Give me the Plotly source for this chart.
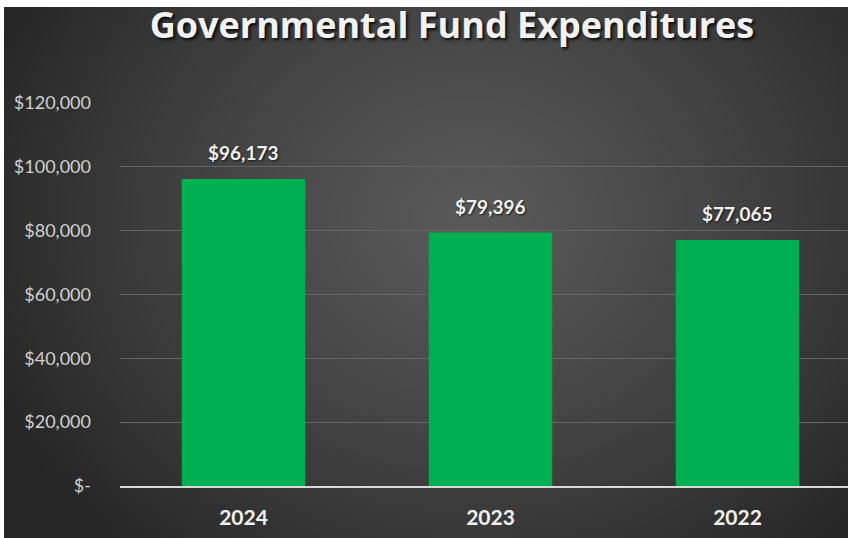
import base64
import struct
import zlib

import numpy as np
import plotly.graph_objects as go

# Chart data
years = ["2024", "2023", "2022"]
expenditures = [96173, 79396, 77065]
value_labels = ["$96,173", "$79,396", "$77,065"]
y_tick_values = [0, 20000, 40000, 60000, 80000, 100000, 120000]
y_tick_labels = ["$-", "$20,000", "$40,000", "$60,000", "$80,000", "$100,000", "$120,000"]

W, H = 848, 538
L, R, T, B = 120, 0, 103, 52
plot_w, plot_h = W - L - R, H - T - B


def png_data_uri(rgb):
    """Encode an (h, w, 3) uint8 array as a PNG data URI."""
    h, w, _ = rgb.shape
    raw = b"".join(b"\x00" + rgb[i].tobytes() for i in range(h))

    def chunk(tag, data):
        c = struct.pack(">I", len(data)) + tag + data
        return c + struct.pack(">I", zlib.crc32(tag + data) & 0xFFFFFFFF)

    png = b"\x89PNG\r\n\x1a\n"
    png += chunk(b"IHDR", struct.pack(">IIBBBBB", w, h, 8, 2, 0, 0, 0))
    png += chunk(b"IDAT", zlib.compress(raw, 9))
    png += chunk(b"IEND", b"")
    return "data:image/png;base64," + base64.b64encode(png).decode()


# Dark radial-gradient backdrop (chart area fill)
gw, gh = 212, 133
yy, xx = np.mgrid[0:gh, 0:gw].astype(float)
cx, cy = gw * 0.55, gh * 0.40
t = np.sqrt(((xx - cx) / (gw * 0.62)) ** 2 + ((yy - cy) / (gh * 0.85)) ** 2)
t = np.clip(t, 0, 1) ** 1.2
inner = np.array([0x5a, 0x5a, 0x5a], float)
outer = np.array([0x26, 0x26, 0x26], float)
grad = (inner[None, None, :] * (1 - t[..., None]) + outer[None, None, :] * t[..., None]).astype(np.uint8)
bg_uri = png_data_uri(grad)

# backdrop extents in paper coordinates (backdrop starts 4px from left, 7px from top)
bx0 = (4 - L) / plot_w
bx1 = (W - L) / plot_w
by1 = (H - B - 7) / plot_h
by0 = (H - B - H) / plot_h

fig = go.Figure()
fig.add_trace(go.Bar(
    x=years,
    y=expenditures,
    marker=dict(color="#00b050", line=dict(width=0)),
    hoverinfo="skip",
))

# value labels above each bar (category index positions)
for idx, (val, lab) in enumerate(zip(expenditures, value_labels)):
    fig.add_annotation(
        x=idx, y=val, text=f"<b>{lab}</b>", showarrow=False,
        xref="x", yref="y",
        yanchor="bottom", yshift=13,
        font=dict(family="Lato", size=19, color="#f2f2f2",
                  shadow="1px 1px 2px rgba(0,0,0,0.7)"),
    )

fig.update_layout(
    width=W, height=H,
    margin=dict(l=L, r=R, t=T, b=B, pad=0),
    paper_bgcolor="white",
    plot_bgcolor="rgba(0,0,0,0)",
    showlegend=False,
    bargap=0.5,
    title=dict(
        text="<b>Governmental Fund Expenditures</b>",
        x=452 / W, xanchor="center",
        y=1 - 25 / H, yanchor="middle",
        font=dict(family="Open Sans", size=36, color="#f2f2f2",
                  shadow="2px 2px 3px rgba(0,0,0,0.85)"),
    ),
    images=[dict(
        source=bg_uri, xref="paper", yref="paper",
        x=bx0, y=by1, sizex=bx1 - bx0, sizey=by1 - by0,
        xanchor="left", yanchor="top", sizing="stretch", layer="below",
    )],
    xaxis=dict(
        type="category",
        range=[-0.5, -0.5 + plot_w / 247.0],
        showgrid=False, zeroline=False,
        showline=True, linecolor="#d9d9d9", linewidth=1.5,
        ticks="", ticklabelstandoff=12,
        tickfont=dict(family="Lato", size=21, color="#f2f2f2", weight="bold"),
    ),
    yaxis=dict(
        range=[0, 120000],
        tickmode="array", tickvals=y_tick_values, ticktext=y_tick_labels,
        showgrid=True, gridcolor="#666666", gridwidth=1,
        zeroline=False, showline=False, ticks="",
        ticklabelstandoff=28,
        tickfont=dict(family="Lato", size=18, color="#d0d0d0"),
    ),
)

fig.write_html("out.html")
